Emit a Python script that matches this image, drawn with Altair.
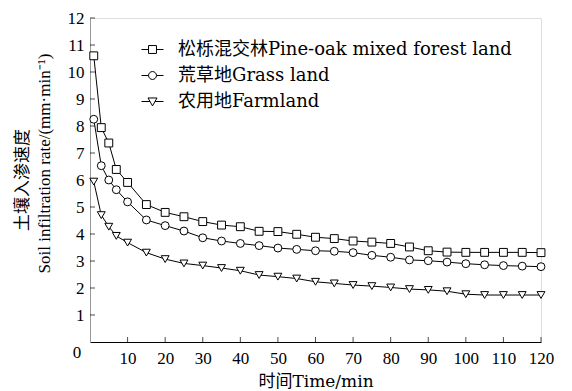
import altair as alt
import pandas as pd

times = [1, 3, 5, 7, 10, 15, 20, 25, 30, 35, 40, 45, 50, 55, 60, 65, 70, 75, 80, 85, 90, 95, 100, 105, 110, 115, 120]

pine_oak = [10.60, 7.94, 7.37, 6.39, 5.91, 5.09, 4.80, 4.64, 4.46, 4.33, 4.27, 4.10, 4.09, 3.99, 3.88, 3.83,
            3.74, 3.70, 3.65, 3.52, 3.38, 3.33, 3.32, 3.32, 3.32, 3.32, 3.31]
grass = [8.25, 6.53, 6.00, 5.64, 5.19, 4.52, 4.31, 4.11, 3.86, 3.74, 3.65, 3.57, 3.48, 3.43, 3.38, 3.36,
         3.31, 3.21, 3.14, 3.04, 3.01, 2.96, 2.90, 2.86, 2.83, 2.81, 2.79]
farmland = [5.94, 4.70, 4.27, 3.93, 3.68, 3.31, 3.07, 2.91, 2.83, 2.74, 2.64, 2.48, 2.42, 2.35, 2.23, 2.17,
            2.11, 2.07, 2.02, 1.96, 1.93, 1.88, 1.77, 1.74, 1.74, 1.74, 1.74]

series_names = ["松栎混交林Pine-oak mixed forest land", "荒草地Grass land", "农用地Farmland"]
x_ticks = [0, 10, 20, 30, 40, 50, 60, 70, 80, 90, 100, 110, 120]
y_ticks = [0, 1, 2, 3, 4, 5, 6, 7, 8, 9, 10, 11, 12]

rows = []
for name, vals in zip(series_names, [pine_oak, grass, farmland]):
    for t, v in zip(times, vals):
        rows.append({"t": t, "v": v, "series": name, "leg": name})
df = pd.DataFrame(rows)

SERIF = "Liberation Serif, Noto Sans CJK SC"
LEG = "DejaVu Serif, Noto Sans CJK SC"

x_axis = alt.Axis(values=x_ticks, labelExpr="datum.value == 0 ? '' : datum.label",
                  labelOverlap=False, labelFlush=False, ticks=False,
                  title="时间Time/min", titleFont=LEG, titleFontSize=17,
                  titleFontWeight="normal", titleY=44, titleBaseline="alphabetic",
                  labelFont=SERIF, labelFontSize=17, labelColor="black",
                  domainColor="black", labelPadding=8, grid=False, titleColor="black")
y_axis = alt.Axis(values=y_ticks, labelExpr="datum.value == 0 ? '' : datum.label",
                  labelOverlap=False, labelFlush=False, ticks=False,
                  title="Soil infiltration rate/(mm·min⁻¹)",
                  titleFont=SERIF, titleFontSize=17, titleFontWeight="normal",
                  titleX=-46, titleY=145, titleAngle=270, titleAlign="center",
                  titleBaseline="middle", titleColor="black",
                  labelFont=SERIF, labelFontSize=17, labelColor="black",
                  domainColor="#999999", labelPadding=6, grid=False)

x_enc = alt.X("t:Q", scale=alt.Scale(domain=[0, 120], nice=False, zero=True), axis=x_axis)
y_enc = alt.Y("v:Q", scale=alt.Scale(domain=[0, 12], nice=False), axis=y_axis)

base = alt.Chart(df)

lines = base.mark_line(color="black", strokeWidth=1).encode(x=x_enc, y=y_enc, detail="series:N")

points = base.mark_point(fill="white", stroke="black", strokeWidth=1, opacity=1, size=62).encode(
    x=x_enc, y=y_enc,
    shape=alt.Shape("series:N", sort=series_names,
                    scale=alt.Scale(domain=series_names, range=["square", "circle", "triangle-down"]),
                    legend=None),
)

leg_paths = [
    "M-1,0H-0.36M0.36,0H1M-0.36,-0.36H0.36V0.36H-0.36Z",
    "M-1,0H-0.36M0.36,0H1M-0.36,0A0.36,0.36,0,1,0,0.36,0A0.36,0.36,0,1,0,-0.36,0Z",
    "M-1,0H-0.23M0.23,0H1M-0.41,-0.32H0.41L0,0.4Z",
]

legend_layer = base.mark_point(opacity=0).encode(
    x=x_enc, y=y_enc,
    shape=alt.Shape("leg:N", sort=series_names,
                    scale=alt.Scale(domain=series_names, range=leg_paths),
                    legend=alt.Legend(title=None, orient="none", legendX=51, legendY=20,
                                      symbolSize=484, symbolOpacity=1, symbolFillColor="white",
                                      symbolStrokeColor="black", symbolStrokeWidth=1,
                                      labelFont=LEG, labelFontSize=18, labelColor="black",
                                      labelOffset=14, rowPadding=5, padding=0,
                                      labelLimit=500)),
)

# inward tick marks, placed through the scales at the tick values
ytick_layer = alt.Chart(pd.DataFrame({"v": y_ticks[1:]})).mark_tick(
    orient="horizontal", size=5, thickness=1, color="black"
).encode(x=alt.value(2.5), y=y_enc)
xtick_layer = alt.Chart(pd.DataFrame({"t": x_ticks[1:]})).mark_tick(
    orient="vertical", size=5, thickness=1, color="black"
).encode(x=x_enc, y=alt.value(321.5))

origin = alt.Chart(pd.DataFrame({"t": [0], "v": [0], "s": ["0"]})).mark_text(
    font=SERIF, fontSize=17, color="black", dx=-13, dy=11, align="center", baseline="middle"
).encode(x=x_enc, y=y_enc, text="s:N")

chart = alt.layer(ytick_layer, xtick_layer, lines, points, legend_layer, origin).resolve_scale(
    shape="independent").properties(
    width=451, height=324,
    autosize=alt.AutoSizeParams(type="none"),
    padding={"left": 82, "top": 10, "right": 23, "bottom": 49},
    title=alt.TitleParams("土壤入渗速度", orient="left", anchor="middle", offset=3,
                          font="Noto Sans CJK SC", fontSize=17, fontWeight="normal", color="black"),
).configure_view(stroke=None).configure(background="white")

chart.save("out.html", embed_options={"renderer": "svg", "actions": False})
